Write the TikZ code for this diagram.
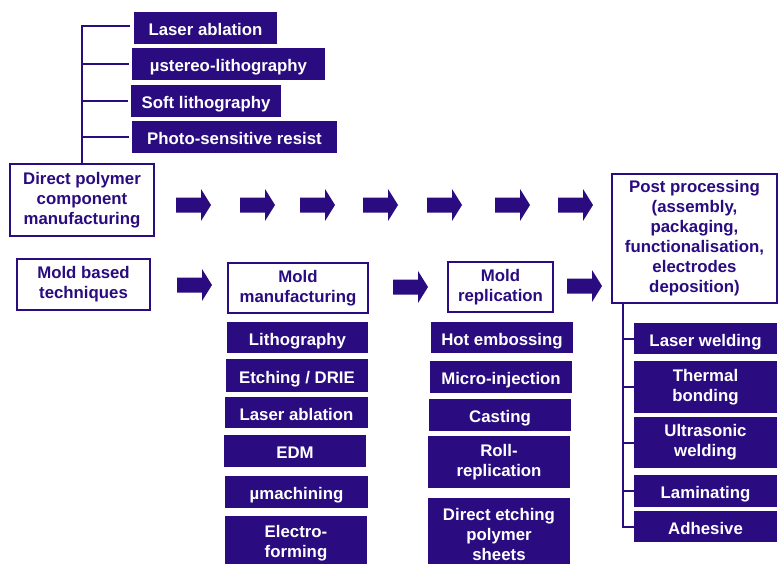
\documentclass[tikz,border=0pt]{standalone}
\usepackage{fontspec}
\setmainfont{Liberation Sans}
\begin{document}
\begin{tikzpicture}[x=1pt,y=-1pt,
  every node/.style={font=\fontsize{16.8}{20}\selectfont\bfseries, align=center, inner sep=0pt},
  dbox/.style={fill=dblue, text=white},
  wbox/.style={draw=dblue, line width=1.2pt, fill=white, text=dblue},
  one/.style={text height=15pt, text depth=0pt},
  tree/.style={draw=dblue, line width=2pt},
  pics/barrow/.style={code={\fill[dblue] (0,-7.5) -- (25,-7.5) -- (25,-16) -- (35,0) -- (25,16) -- (25,7.5) -- (0,7.5) -- cycle;}}]
\definecolor{dblue}{RGB}{42,12,128}
\useasboundingbox (0,0) rectangle (778,563);
% top branch
\node[dbox, one, minimum width=143, minimum height=32] (la1) at (205.5,28) {Laser ablation};
\node[dbox, one, minimum width=193, minimum height=32] (ust) at (228.5,64) {µstereo-lithography};
\node[dbox, one, minimum width=150, minimum height=32] (soft) at (206,101) {Soft lithography};
\node[dbox, one, minimum width=205, minimum height=32] (photo) at (234.5,137) {Photo-sensitive resist};
\node[wbox, minimum width=144, minimum height=72] (direct) at (82,200) {Direct polymer\\component\\manufacturing};
\coordinate (ttop) at (82,26);
\draw[tree] (direct.north) -- (ttop) -- ([xshift=-4pt]la1.west |- ttop);
\foreach \n in {ust,soft,photo} \draw[tree] (direct.north |- \n.west) -- ([xshift=-3pt]\n.west);
% post processing
\node[wbox, minimum width=165, minimum height=129] (post) at (694.5,238.5) {Post processing\\(assembly,\\packaging,\\functionalisation,\\electrodes\\deposition)};
% row 2
\node[wbox, minimum width=133, minimum height=51] (mold) at (83.5,284.5) {Mold based\\techniques};
\node[wbox, minimum width=140, minimum height=50] (mman) at (298,288) {Mold\\manufacturing};
\node[wbox, minimum width=105, minimum height=50] (mrep) at (500.5,287) {Mold\\replication};
% mold manufacturing items
\node[dbox, one, minimum width=141, minimum height=31] (litho) at (297.5,337.5) {Lithography};
\node[dbox, one, minimum width=142, minimum height=33] (etch) at (297,375.5) {Etching / DRIE};
\node[dbox, one, minimum width=143, minimum height=31] (la2) at (296.5,412.5) {Laser ablation};
\node[dbox, one, minimum width=142, minimum height=32] (edm) at (295,451) {EDM};
\node[dbox, one, minimum width=143, minimum height=32] (umach) at (296.5,492) {µmachining};
\node[dbox, minimum width=142, minimum height=56] (electro) at (296,543.5) {Electro-\\forming};
% mold replication items
\node[dbox, one, minimum width=142, minimum height=31] (hot) at (502,337.5) {Hot embossing};
\node[dbox, one, minimum width=142, minimum height=32] (micro) at (501,377) {Micro-injection};
\node[dbox, one, minimum width=142, minimum height=32] (cast) at (500,415) {Casting};
\node[dbox, minimum width=142, minimum height=52] (roll) at (499,462) {Roll-\\replication};
\node[dbox, minimum width=142, minimum height=72] (detch) at (499,534) {Direct etching\\polymer\\sheets};
% post processing items
\node[dbox, one, minimum width=143, minimum height=31] (lw) at (705.5,338.5) {Laser welding};
\node[dbox, minimum width=143, minimum height=52] (tb) at (705.5,387) {Thermal\\bonding};
\node[dbox, minimum width=143, minimum height=51] (uw) at (705.5,442.5) {Ultrasonic\\welding};
\node[dbox, one, minimum width=143, minimum height=32] (lam) at (705.5,491) {Laminating};
\node[dbox, one, minimum width=143, minimum height=31] (adh) at (705.5,526.5) {Adhesive};
\coordinate (ptr) at (623,303);
\draw[tree] (ptr) |- (adh.west);
\foreach \n in {lw,tb,uw,lam} \draw[tree] (ptr |- \n.west) -- (\n.west);
% arrows row 1
\foreach \x in {176,240,300,363,427,495,558} \pic at (\x,205) {barrow};
% arrows row 2
\pic at (177,285) {barrow};
\pic at (393,287) {barrow};
\pic at (567,286) {barrow};
\end{tikzpicture}
\end{document}
